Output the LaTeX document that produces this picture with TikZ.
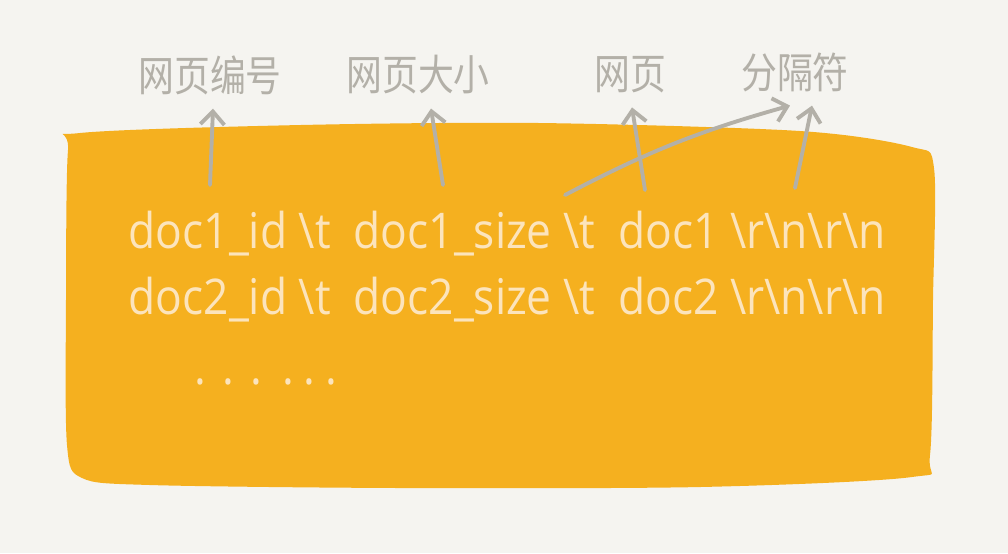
\documentclass[tikz,border=0pt]{standalone}
\usepackage{fontspec}
\setmainfont{Open Sans}
\newfontfamily\handfont[FakeStretch=0.9]{Open Sans}
\newfontfamily\cjk[FakeStretch=0.85]{Noto Sans CJK SC}
\usetikzlibrary{arrows.meta}
\definecolor{paper}{HTML}{F5F4F0}
\definecolor{blobfill}{HTML}{F5B01F}
\definecolor{cream}{HTML}{FCE4BC}
\definecolor{pencil}{HTML}{B3B0A8}
\tikzset{
  label/.style={text=pencil, font=\cjk\fontsize{12}{14}\selectfont, inner sep=1pt, outer sep=3pt},
  codeline/.style={text=cream, font=\handfont\fontsize{14}{16}\selectfont, anchor=base west, inner sep=0pt},
  pointer/.style={draw=pencil, line width=1.1pt, line cap=round, -{Straight Barb[length=1.3mm, width=2.4mm, line width=1.1pt]}}
}
\begin{document}
\begin{tikzpicture}[x=0.01cm, y=-0.01cm]
  \fill[paper] (0,0) rectangle (1008,553);
  \useasboundingbox (0,0) rectangle (1008,553);
  \fill[blobfill] plot[smooth cycle, tension=0.5] coordinates {
    (80,133) (300,125) (540,123) (800,131) (912,147) (934,168) (933,300)
    (930,455) (912,477) (700,487) (400,488) (150,485) (82,478) (67,445)
    (66,300) (68,150)};
  \node[codeline] (row1) at (128,248) {doc1\_id \textbackslash t\ \ doc1\_size \textbackslash t\ \ doc1 \textbackslash r\textbackslash n\textbackslash r\textbackslash n};
  \node[codeline] (row2) at (128,314) {doc2\_id \textbackslash t\ \ doc2\_size \textbackslash t\ \ doc2 \textbackslash r\textbackslash n\textbackslash r\textbackslash n};
  \node[codeline] (more) at (194,384) {.\hspace{0.16cm}.\hspace{0.16cm}.\hspace{0.2cm}.\hspace{0.1cm}.\hspace{0.1cm}.};
  \node[label] (docid) at (210,75) {网页编号};
  \node[label] (docsize) at (418,75) {网页大小};
  \node[label] (page) at (630,75) {网页};
  \node[label] (sep) at (795,72) {分隔符};
  \coordinate (idfoot) at (210,185);
  \coordinate (sizefoot) at (443,185);
  \coordinate (pagefoot) at (645,190);
  \coordinate (sepfoot) at (795,188);
  \coordinate (tabfoot) at (565,195);
  \draw[pointer] (idfoot) -- ([xshift=0.03cm]docid.south);
  \draw[pointer] (sizefoot) -- ([xshift=0.13cm]docsize.south);
  \draw[pointer] (pagefoot) -- ([xshift=0.02cm]page.south);
  \draw[pointer] (sepfoot) -- ([xshift=0.17cm]sep.south);
  \draw[pointer] (tabfoot) to[bend left=6] ([xshift=-0.05cm]sep.south);
\end{tikzpicture}
\end{document}
